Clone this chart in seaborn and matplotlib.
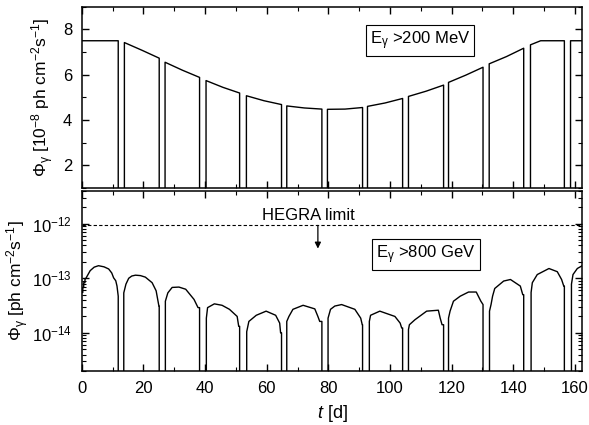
import matplotlib

matplotlib.use("Agg")
import matplotlib.pyplot as plt
import pandas as pd
import seaborn as sns
from matplotlib.ticker import LogLocator, MultipleLocator, NullFormatter

# Upper panel: E > 200 MeV, flux in 1e-8 ph cm^-2 s^-1 (0 = eclipse gap)
t_mev = [0.0, 11.8, 11.8, 13.8, 13.8, 19.5, 25.1, 25.1, 27.0, 27.0, 32.6, 38.2,
         38.2, 40.3, 40.3, 45.8, 51.2, 51.2, 53.4, 53.4, 59.1, 64.8, 64.8, 66.5,
         66.5, 72.2, 77.9, 77.9, 79.7, 79.7, 85.4, 91.1, 91.1, 92.7, 92.7, 98.4,
         104.1, 104.1, 106.0, 106.0, 111.7, 117.4, 117.4, 119.0, 119.0, 124.6,
         130.2, 130.2, 132.2, 132.2, 137.8, 143.4, 143.4, 145.6, 145.6, 148.9,
         156.6, 156.6, 158.6, 158.6, 162.4]
flux_mev = [7.5, 7.5, 0, 0, 7.42, 7.08, 6.73, 0, 0, 6.55, 6.2, 5.88,
            0, 0, 5.74, 5.44, 5.19, 0, 0, 5.07, 4.85, 4.68, 0, 0,
            4.62, 4.53, 4.48, 0, 0, 4.47, 4.48, 4.55, 0, 0, 4.6, 4.75,
            4.95, 0, 0, 5.04, 5.27, 5.54, 0, 0, 5.66, 5.98,
            6.33, 0, 0, 6.48, 6.8, 7.17, 0, 0, 7.32, 7.5,
            7.5, 0, 0, 7.5, 7.5]

# Lower panel: E > 800 GeV, flux in ph cm^-2 s^-1 (1e-16 = eclipse gap)
t_gev = [0.0, 0.3, 0.3, 0.6, 0.6, 1.0, 1.0, 1.4, 2.7, 4.0, 5.4, 7.2, 8.7, 9.7,
         10.3, 11.0, 11.4, 11.8, 11.8,
         13.6, 13.6, 14.3, 15.2, 16.2, 17.4, 19.0, 20.6, 22.8, 24.1, 25.0, 25.1, 25.1,
         27.1, 27.1, 27.9, 29.3, 31.5, 33.7, 36.4, 37.7, 38.2, 38.2,
         40.4, 40.4, 40.8, 43.0, 45.5, 47.9, 50.4, 50.9, 51.2, 51.2,
         53.5, 53.5, 54.2, 56.6, 59.8, 62.9, 64.2, 64.5, 64.8, 64.8,
         66.5, 66.5, 67.2, 68.5, 71.8, 75.6, 76.6, 77.2, 77.9, 77.9,
         79.9, 79.9, 80.7, 82.1, 84.3, 88.6, 90.5, 91.0, 91.1, 91.1,
         93.3, 93.3, 93.7, 96.7, 101.6, 103.3, 103.8, 104.1, 104.1,
         106.0, 106.0, 106.3, 108.1, 111.9, 115.7, 116.3, 116.9, 117.4, 117.4,
         119.0, 119.0, 119.5, 120.6, 122.8, 125.5, 128.0, 129.5, 130.2, 130.2,
         132.3, 132.3, 132.8, 133.3, 134.0, 136.9, 139.1, 142.3, 143.1, 143.4, 143.4,
         145.8, 145.8, 146.2, 147.8, 151.6, 154.3, 155.7, 156.4, 156.6, 156.6,
         158.9, 158.9, 159.4, 160.8, 162.4]
flux_gev = [5.5e-14, 5.5e-14, 6.8e-14, 6.8e-14, 8.3e-14, 8.3e-14, 9.5e-14, 1.02e-13,
            1.38e-13, 1.6e-13, 1.7e-13, 1.62e-13, 1.48e-13, 1.25e-13,
            1.02e-13, 9.0e-14, 7.2e-14, 4.7e-14, 1e-16,
            1e-16, 5.4e-14, 7.8e-14, 1.0e-13, 1.1e-13, 1.14e-13, 1.12e-13, 1.05e-13,
            8.3e-14, 5.9e-14, 3.1e-14, 3.1e-14, 1e-16,
            1e-16, 3.8e-14, 5.4e-14, 6.8e-14, 6.9e-14, 6.3e-14, 4.1e-14, 2.9e-14,
            2.9e-14, 1e-16,
            1e-16, 1.86e-14, 2.9e-14, 3.4e-14, 3.2e-14, 2.7e-14, 2.0e-14, 1.32e-14,
            1.32e-14, 1e-16,
            1e-16, 1.05e-14, 1.62e-14, 2.1e-14, 2.5e-14, 2.1e-14, 1.51e-14, 1.0e-14,
            1.0e-14, 1e-16,
            1e-16, 1.62e-14, 2.0e-14, 2.7e-14, 3.2e-14, 2.75e-14, 2.0e-14, 1.62e-14,
            1.62e-14, 1e-16,
            1e-16, 1.86e-14, 2.7e-14, 3.1e-14, 3.3e-14, 2.7e-14, 1.86e-14, 1.41e-14,
            1.41e-14, 1e-16,
            1e-16, 1.62e-14, 2.1e-14, 2.5e-14, 2.0e-14, 1.51e-14, 1.23e-14, 1.23e-14, 1e-16,
            1e-16, 1.15e-14, 1.41e-14, 1.74e-14, 2.5e-14, 2.6e-14, 1.86e-14, 1.41e-14,
            1.41e-14, 1e-16,
            1e-16, 1.86e-14, 2.5e-14, 3.8e-14, 4.7e-14, 5.6e-14, 5.6e-14, 3.8e-14,
            3.3e-14, 1e-16,
            1e-16, 2.5e-14, 3.3e-14, 4.7e-14, 6.5e-14, 8.9e-14, 9.5e-14, 7.2e-14,
            5.0e-14, 5.0e-14, 1e-16,
            1e-16, 5.5e-14, 8.3e-14, 1.17e-13, 1.51e-13, 1.32e-13, 9.5e-14, 7.2e-14,
            7.2e-14, 1e-16,
            1e-16, 7.8e-14, 1.17e-13, 1.51e-13, 1.7e-13]

hegra_limit = 9.3e-13
hegra_arrow_tip = 3.5e-13
hegra_t = 76.6

x_ticks = [0, 20, 40, 60, 80, 100, 120, 140, 160]
mev_ticks = [2, 4, 6, 8]


def style_axis(ax):
    ax.tick_params(which="both", direction="in", top=True, right=True, labelsize=12,
                   color="black", labelcolor="black", pad=7)
    ax.tick_params(which="major", length=5, width=1)
    ax.tick_params(which="minor", length=3, width=0.8)
    for spine in ax.spines.values():
        spine.set_linewidth(1.1)
        spine.set_color("black")
        spine.set_visible(True)


def main() -> None:
    sns.set_theme(style="ticks", rc={"text.color": "black", "axes.labelcolor": "black",
                                     "axes.edgecolor": "black"})
    plt.rcParams["font.family"] = ["Liberation Sans", "DejaVu Sans"]
    plt.rcParams["mathtext.fontset"] = "custom"
    plt.rcParams["mathtext.rm"] = "Liberation Sans"
    plt.rcParams["mathtext.it"] = "Liberation Sans:italic"
    plt.rcParams["mathtext.default"] = "regular"

    fig = plt.figure(figsize=(5.89, 4.25), dpi=100)
    ax1 = fig.add_axes([0.139, 0.558, 0.849, 0.426])
    ax2 = fig.add_axes([0.139, 0.127, 0.849, 0.424])

    top = pd.DataFrame({"t": t_mev, "flux": flux_mev})
    bottom = pd.DataFrame({"t": t_gev, "flux": flux_gev})

    sns.lineplot(data=top, x="t", y="flux", sort=False, estimator=None,
                 color="black", linewidth=1.0, ax=ax1)
    sns.lineplot(data=bottom, x="t", y="flux", sort=False, estimator=None,
                 color="black", linewidth=1.0, ax=ax2)

    # upper panel
    ax1.set_xlim(0, 162.3)
    ax1.set_ylim(1, 9)
    ax1.set_xticks(x_ticks)
    ax1.xaxis.set_minor_locator(MultipleLocator(10))
    ax1.set_xticklabels([])
    ax1.set_yticks(mev_ticks)
    ax1.yaxis.set_minor_locator(MultipleLocator(1))
    ax1.set_xlabel("")
    ax1.set_ylabel(r"$\Phi_{\gamma}$ [10$^{-8}$ ph cm$^{-2}$s$^{-1}$]", fontsize=12.5, labelpad=5)
    style_axis(ax1)
    ax1.text(0.676, 0.812, r"E$_{\gamma}$ >200 MeV", transform=ax1.transAxes,
             ha="center", va="center", fontsize=12,
             bbox=dict(boxstyle="square,pad=0.25", facecolor="white", edgecolor="black", linewidth=0.8))

    # lower panel
    ax2.set_yscale("log")
    ax2.set_xlim(0, 162.3)
    ax2.set_ylim(2e-15, 4e-12)
    ax2.set_xticks(x_ticks)
    ax2.xaxis.set_minor_locator(MultipleLocator(10))
    ax2.yaxis.set_major_locator(LogLocator(base=10, numticks=10))
    ax2.yaxis.set_minor_locator(LogLocator(base=10, subs=range(2, 10), numticks=10))
    ax2.yaxis.set_minor_formatter(NullFormatter())
    ax2.set_xlabel(r"$\it{t}$ [d]", fontsize=13, labelpad=5)
    ax2.set_ylabel(r"$\Phi_{\gamma}$ [ph cm$^{-2}$s$^{-1}$]", fontsize=12.5, labelpad=1)
    style_axis(ax2)

    ax2.axhline(hegra_limit, color="black", linestyle=(0, (3, 2)), linewidth=0.8)
    ax2.text(73.4, hegra_limit * 1.12, "HEGRA limit", ha="center", va="bottom", fontsize=12)
    ax2.annotate("", xy=(hegra_t, hegra_arrow_tip), xytext=(hegra_t, hegra_limit),
                 arrowprops=dict(arrowstyle="-|>", color="black", linewidth=0.9,
                                 mutation_scale=9, shrinkA=0, shrinkB=0))
    ax2.text(0.688, 0.647, r"E$_{\gamma}$ >800 GeV", transform=ax2.transAxes,
             ha="center", va="center", fontsize=12,
             bbox=dict(boxstyle="square,pad=0.25", facecolor="white", edgecolor="black", linewidth=0.8))

    fig.savefig("out.png", dpi=100)


if __name__ == "__main__":
    main()
